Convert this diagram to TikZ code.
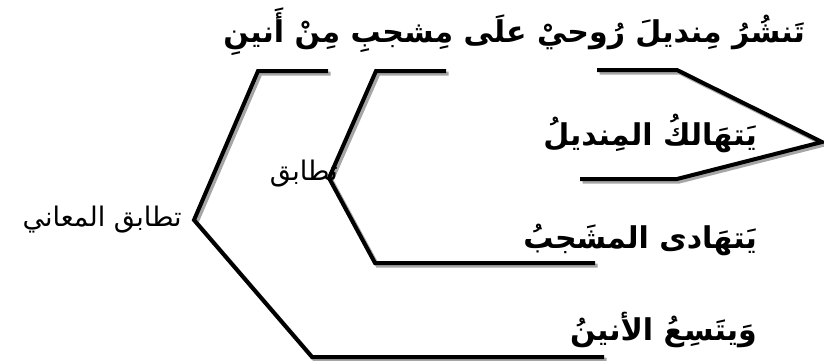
\documentclass[tikz,border=0pt]{standalone}
\usepackage{fontspec}
\TeXXeTstate=1
\newfontfamily\arabicfont[Script=Arabic]{DejaVu Sans}
\begin{document}
\begin{tikzpicture}[x=1pt,y=-1pt,
  br/.style={line width=4pt,black,line join=miter},
  brsh/.style={line width=4pt,black!35,line join=miter,transform canvas={shift={(2.5pt,-2.5pt)}}},
  verse/.style={inner sep=0pt,font=\arabicfont\bfseries\fontsize{30}{34}\selectfont},
  plain/.style={inner sep=0pt,font=\arabicfont\fontsize{27}{30}\selectfont}]
\useasboundingbox (0,0) rectangle (824,361);
% corner coordinates
\coordinate (o1) at (328,71); \coordinate (o2) at (258,71); \coordinate (o3) at (194,220);
\coordinate (o4) at (312,357); \coordinate (o5) at (604,357);
\coordinate (i1) at (446,71); \coordinate (i2) at (376,71); \coordinate (i3) at (329,178);
\coordinate (i4) at (375,263); \coordinate (i5) at (595,263);
\coordinate (r1) at (597,70); \coordinate (r2) at (677,70); \coordinate (r3) at (822,142);
\coordinate (r4) at (677,179); \coordinate (r5) at (580,179);
% shadows
\draw[brsh] (o1) -- (o2) -- (o3) -- (o4) -- (o5);
\draw[brsh] (i1) -- (i2) -- (i3) -- (i4) -- (i5);
\draw[brsh] (r1) -- (r2) -- (r3) -- (r4) -- (r5);
% brackets
\draw[br] (o1) -- (o2) -- (o3) -- (o4) -- (o5);
\draw[br] (i1) -- (i2) -- (i3) -- (i4) -- (i5);
\draw[br] (r1) -- (r2) -- (r3) -- (r4) -- (r5);
% texts
\node[verse,anchor=base east] (t1) at (805,43) {\beginR تَنشُرُ مِنديلَ رُوحيْ علَى مِشجبِ مِنْ أَنينِ\endR};
\node[verse,anchor=base east] (t2) at (757,145) {\beginR يَتهَالكُ المِنديلُ\endR};
\node[verse,anchor=base east] (t3) at (757,248) {\beginR يَتهَادى المشَجبُ\endR};
\node[verse,anchor=base east] (t4) at (757,340) {\beginR وَيتَسِعُ الأنينُ\endR};
\node[plain,anchor=base east] (l1) at (182,226) {\beginR تطابق المعاني\endR};
\node[plain,anchor=base east] (l2) at (338,180) {\beginR تطابق\endR};
\end{tikzpicture}
\end{document}
